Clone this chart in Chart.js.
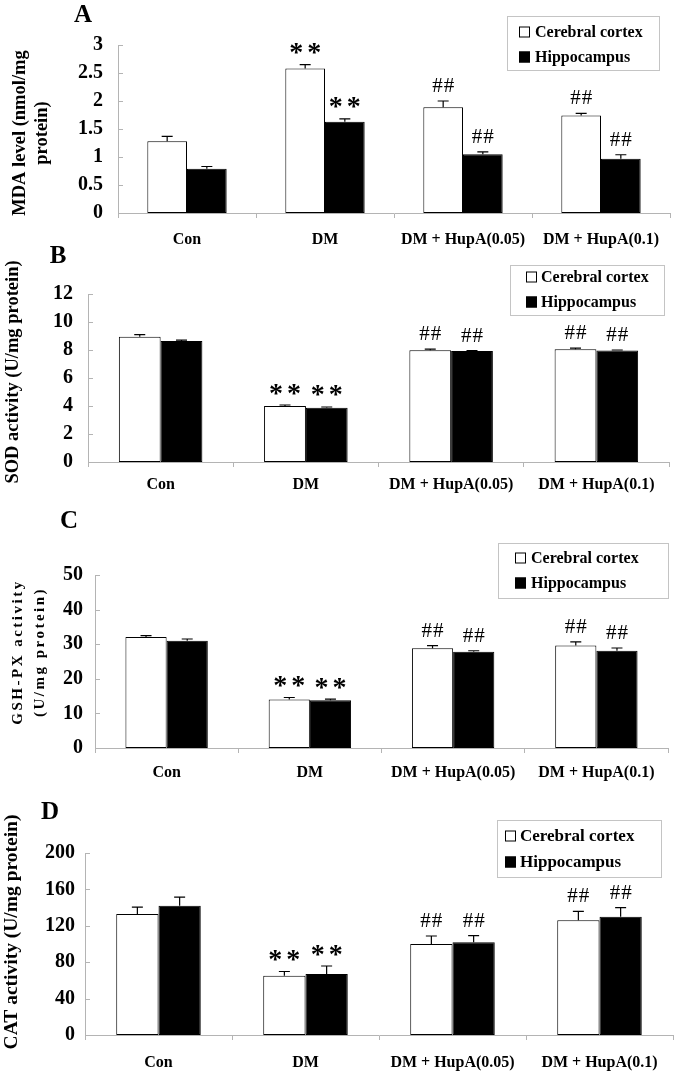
<!DOCTYPE html>
<html>
<head>
<meta charset="utf-8">
<script src="https://cdn.jsdelivr.net/npm/chart.js@4.4.1/dist/chart.umd.min.js"></script>
<style>
html,body{margin:0;padding:0;background:#fff;}
#wrap{position:relative;width:674px;height:1075px;overflow:hidden;background:#fff;}
#wrap canvas{position:absolute;left:0;top:0;width:674px;height:1075px;}
</style>
</head>
<body>
<div id="wrap">
<canvas id="cA" width="674" height="1075"></canvas>
<canvas id="cB" width="674" height="1075"></canvas>
<canvas id="cC" width="674" height="1075"></canvas>
<canvas id="cD" width="674" height="1075"></canvas>
</div>
<script>
// ---------- data ----------
const categories = ['Con', 'DM', 'DM + HupA(0.05)', 'DM + HupA(0.1)'];
const seriesNames = ['Cerebral cortex', 'Hippocampus'];
const sigCortex = ['', '**', '##', '##'];
const sigHippo = ['', '**', '##', '##'];

// A: MDA level (nmol/mg protein)
const mdaCortex = [1.28, 2.58, 1.89, 1.74];
const mdaCortexErr = [0.09, 0.07, 0.11, 0.04];
const mdaHippo = [0.79, 1.63, 1.05, 0.97];
const mdaHippoErr = [0.04, 0.05, 0.04, 0.07];
const mdaTicks = [0, 0.5, 1, 1.5, 2, 2.5, 3];

// B: SOD activity (U/mg protein)
const sodCortex = [8.95, 4.0, 7.98, 8.05];
const sodCortexErr = [0.15, 0.07, 0.08, 0.08];
const sodHippo = [8.65, 3.88, 7.92, 7.97];
const sodHippoErr = [0.05, 0.05, 0.04, 0.03];
const sodTicks = [0, 2, 4, 6, 8, 10, 12];

// C: GSH-PX activity (U/mg protein)
const gshCortex = [32.1, 14.0, 28.8, 29.6];
const gshCortexErr = [0.4, 0.6, 0.8, 1.1];
const gshHippo = [31.0, 13.8, 27.8, 28.1];
const gshHippoErr = [0.5, 0.3, 0.3, 0.8];
const gshTicks = [0, 10, 20, 30, 40, 50];

// D: CAT activity (U/mg protein)
const catCortex = [133, 65, 100, 126];
const catCortexErr = [7.5, 4.8, 8.8, 9.9];
const catHippo = [142, 67, 102, 130];
const catHippoErr = [9.6, 8.8, 7.3, 9.9];
const catTicks = [0, 40, 80, 120, 160, 200];

// ---------- layout / style ----------
const SERIF = '"Liberation Serif", "Times New Roman", serif';
const AXIS = '#b4b4b4';
const XH = 45;
const W = 674, H = 1075;

const panels = [
  {canvas:'cA', letter:'A', letterX:83, letterY:16, L:118, R:670, T:45, B:213, tickPad:15, xPad:12,
   title:['MDA level (nmol/mg', 'protein)'], titleX:[20, 42], titleY:133, titleSize:18.5, titleSpacing:0,
   legend:{x:507, y:16, w:152, h:54, rows:[32, 57], sq:519, tx:535, size:16}},
  {canvas:'cB', letter:'B', letterX:58, letterY:257, L:88, R:669, T:294, B:462, tickPad:15, xPad:8,
   title:['SOD activity (U/mg protein)'], titleX:[13], titleY:372, titleSize:18.5, titleSpacing:0,
   legend:{x:510, y:265, w:154, h:50, rows:[277, 302], sq:526, tx:541, size:16}},
  {canvas:'cC', letter:'C', letterX:69, letterY:522, L:95, R:668, T:575, B:748, tickPad:12, xPad:10,
   title:['GSH-PX activity', '(U/mg protein)'], titleX:[18, 40], titleY:652, titleSize:15, titleSpacing:2.5,
   legend:{x:498, y:543, w:170, h:55, rows:[558, 583], sq:515, tx:531, size:16}},
  {canvas:'cD', letter:'D', letterX:50, letterY:813, L:85, R:673, T:853, B:1035, tickPad:10, xPad:13,
   title:['CAT activity (U/mg protein)'], titleX:[12], titleY:932, titleSize:19.5, titleSpacing:0,
   legend:{x:497, y:820, w:164, h:57, rows:[836, 862], sq:505, tx:520, size:17}}
];

function drawGlyphsCentered(ctx, text, cx, cy, font, gap) {
  ctx.font = font;
  const chars = text.split('');
  const widths = chars.map(c => ctx.measureText(c).width);
  const total = widths.reduce((a, b) => a + b, 0) + gap * (chars.length - 1);
  let x = cx - total / 2;
  chars.forEach((c, i) => {
    const m = ctx.measureText(c);
    const mid = (m.actualBoundingBoxAscent - m.actualBoundingBoxDescent) / 2;
    ctx.textAlign = 'left';
    ctx.textBaseline = 'alphabetic';
    ctx.fillText(c, x, cy + mid);
    x += widths[i] + gap;
  });
}

function decor(cfg, ticks) {
  return {
    id: 'decor' + cfg.letter,
    afterDatasetsDraw(chart) {
      const ctx = chart.ctx;
      const ys = chart.scales.y;
      chart.data.datasets.forEach((ds, di) => {
        const meta = chart.getDatasetMeta(di);
        meta.data.forEach((bar, i) => {
          const v = ds.data[i], e = ds.errors[i];
          const yv = ys.getPixelForValue(v);
          const yt = ys.getPixelForValue(v + e);
          ctx.save();
          ctx.strokeStyle = '#000';
          ctx.lineWidth = 1.2;
          ctx.beginPath();
          ctx.moveTo(bar.x, yv);
          ctx.lineTo(bar.x, yt);
          ctx.moveTo(bar.x - 5.5, yt);
          ctx.lineTo(bar.x + 5.5, yt);
          ctx.stroke();
          const s = ds.sig[i];
          if (s) {
            ctx.fillStyle = '#000';
            if (s === '**') {
              drawGlyphsCentered(ctx, s, bar.x, yt - 16, 'bold 28px ' + SERIF, 4);
            } else {
              drawGlyphsCentered(ctx, s, bar.x, yt - 16, '21px ' + SERIF, 1);
            }
          }
          ctx.restore();
        });
      });
    },
    afterDraw(chart) {
      const ctx = chart.ctx;
      const ys = chart.scales.y;
      const area = chart.chartArea;
      ctx.save();
      // inner y tick marks
      ctx.strokeStyle = AXIS;
      ctx.lineWidth = 1;
      ticks.forEach(v => {
        const y = Math.round(ys.getPixelForValue(v)) + 0.5;
        ctx.beginPath();
        ctx.moveTo(area.left, y);
        ctx.lineTo(area.left + 5, y);
        ctx.stroke();
      });
      // y title
      ctx.fillStyle = '#000';
      ctx.font = 'bold ' + cfg.titleSize + 'px ' + SERIF;
      ctx.letterSpacing = cfg.titleSpacing + 'px';
      cfg.title.forEach((line, k) => {
        ctx.save();
        ctx.translate(cfg.titleX[k], cfg.titleY);
        ctx.rotate(-Math.PI / 2);
        ctx.textAlign = 'center';
        ctx.textBaseline = 'middle';
        ctx.fillText(line, 0, 0);
        ctx.restore();
      });
      ctx.letterSpacing = '0px';
      // panel letter
      ctx.font = 'bold 25px ' + SERIF;
      ctx.textAlign = 'center';
      ctx.textBaseline = 'middle';
      ctx.fillText(cfg.letter, cfg.letterX, cfg.letterY);
      // legend box
      const lg = cfg.legend;
      ctx.fillStyle = '#fff';
      ctx.fillRect(lg.x, lg.y, lg.w, lg.h);
      ctx.strokeStyle = '#c4c4c4';
      ctx.lineWidth = 1;
      ctx.strokeRect(lg.x + 0.5, lg.y + 0.5, lg.w, lg.h);
      chart.data.datasets.forEach((ds, di) => {
        const cy = lg.rows[di];
        ctx.fillStyle = ds.backgroundColor;
        ctx.fillRect(lg.sq, cy - 5.5, 11, 11);
        ctx.strokeStyle = '#000';
        ctx.strokeRect(lg.sq + 0.5, cy - 5.5 + 0.5, 10, 10);
        ctx.fillStyle = '#000';
        ctx.font = 'bold ' + lg.size + 'px ' + SERIF;
        ctx.textAlign = 'left';
        ctx.textBaseline = 'middle';
        ctx.fillText(ds.label, lg.tx, cy + 1);
      });
      ctx.restore();
    }
  };
}

function makeChart(cfg, cortex, cortexErr, hippo, hippoErr, ticks) {
  return new Chart(document.getElementById(cfg.canvas), {
    type: 'bar',
    data: {
      labels: categories,
      datasets: [
        {label: seriesNames[0], data: cortex, errors: cortexErr, sig: sigCortex,
         backgroundColor: '#ffffff', borderColor: '#000', borderWidth: 1, borderSkipped: false},
        {label: seriesNames[1], data: hippo, errors: hippoErr, sig: sigHippo,
         backgroundColor: '#000000', borderColor: '#000', borderWidth: 1, borderSkipped: false}
      ]
    },
    options: {
      responsive: false,
      animation: false,
      devicePixelRatio: 1,
      events: [],
      layout: {padding: {top: cfg.T, left: 0, right: W - cfg.R, bottom: H - cfg.B - XH}},
      plugins: {legend: {display: false}, tooltip: {enabled: false}, title: {display: false}},
      datasets: {bar: {categoryPercentage: 0.575, barPercentage: 1}},
      scales: {
        x: {
          grid: {display: true, drawOnChartArea: false, drawTicks: true, tickLength: 5, color: AXIS},
          border: {display: true, color: AXIS, width: 1},
          ticks: {color: '#000', font: {family: SERIF, weight: 'bold', size: 16}, padding: cfg.xPad,
                  maxRotation: 0, minRotation: 0, autoSkip: false},
          afterFit(s) { s.height = XH; }
        },
        y: {
          min: ticks[0], max: ticks[ticks.length - 1],
          grid: {display: false, drawTicks: false},
          border: {display: true, color: AXIS, width: 1},
          afterBuildTicks(s) { s.ticks = ticks.map(v => ({value: v})); },
          ticks: {color: '#000', font: {family: SERIF, weight: 'bold', size: 20}, padding: cfg.tickPad,
                  callback: (v) => String(v)},
          afterFit(s) { s.width = cfg.L; }
        }
      }
    },
    plugins: [decor(cfg, ticks)]
  });
}

makeChart(panels[0], mdaCortex, mdaCortexErr, mdaHippo, mdaHippoErr, mdaTicks);
makeChart(panels[1], sodCortex, sodCortexErr, sodHippo, sodHippoErr, sodTicks);
makeChart(panels[2], gshCortex, gshCortexErr, gshHippo, gshHippoErr, gshTicks);
makeChart(panels[3], catCortex, catCortexErr, catHippo, catHippoErr, catTicks);
</script>
</body>
</html>
